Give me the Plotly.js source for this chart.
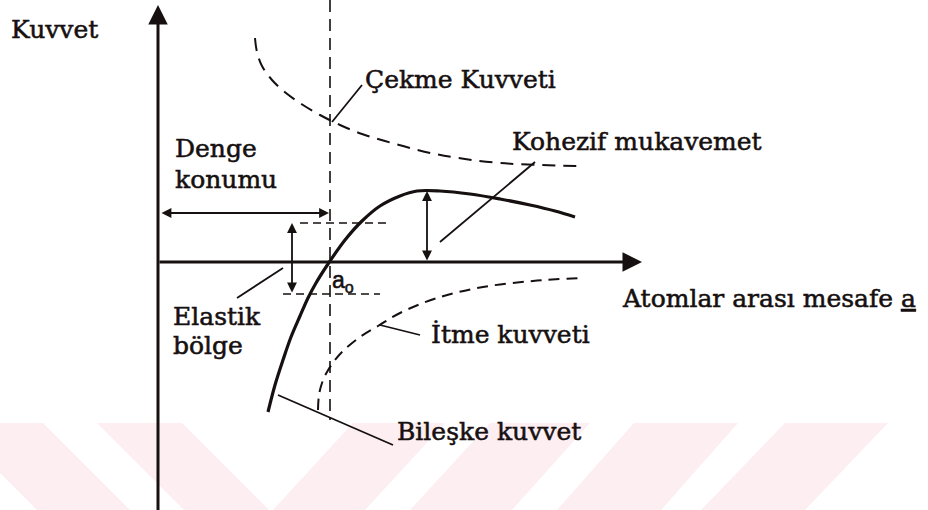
<!DOCTYPE html>
<html>
<head>
<meta charset="utf-8">
<script src="https://cdn.plot.ly/plotly-3.0.1.min.js"></script>
<style>
html,body{margin:0;padding:0;background:#fff;}
#chart{width:928px;height:510px;}
#chart .annotation-text{stroke:#161010;stroke-width:0.55px;}
</style>
</head>
<body>
<div id="chart"></div>
<script>
// ---- Data (schematic units: origin at the axes crossing, y up) ----
// Bileşke kuvvet (resultant force), solid
const resultantX = [110,117,125,133,142,150,158,170,187,204,222,242,259,282,312,342,372,397,417];
const resultantY = [-150,-123,-98,-75,-54,-36,-21,-2,22,41,56,66,71,71,68,63,57,51,45];
// Çekme kuvveti (attractive force), dashed
const attractX = [97,99,104,114,128,145,162,182,204,227,252,277,307,342,382,425];
const attractY = [224,210,196,182,169,157,147,137,128,121,114,108,103,99,97,96];
// İtme kuvveti (repulsive force), dashed
const repulseX = [160,161,164,169,177,186,202,220,242,279,325,375,422];
const repulseY = [-148,-133,-121,-110,-98,-88,-75,-64,-51,-36,-25,-19,-16];
// key values
const a0 = 172;          // equilibrium spacing
const peakX = 269;       // x of cohesive strength
const peakY = 71;        // cohesive strength
const elasticTop = 39;   // elastic region upper bound
const elasticBot = -32;  // elastic region lower bound
const dengeY = 49;       // level of "Denge konumu" arrow

const labels = {
  yTitle: 'Kuvvet',
  xTitle: 'Atomlar arası mesafe <u>a</u>',
  attract: 'Çekme Kuvveti',
  cohesive: 'Kohezif mukavemet',
  denge1: 'Denge', denge2: 'konumu',
  elastic1: 'Elastik', elastic2: 'bölge',
  repulse: 'İtme kuvveti',
  resultant: 'Bileşke kuvvet',
  a0: 'a<sub>o</sub>'
};

const ink = '#161010';
const serif = {family: 'DejaVu Serif', size: 25, color: ink};
const pink = 'rgb(253,238,241)';

const traces = [
  {x: attractX, y: attractY, mode: 'lines', line: {color: ink, width: 2, dash: '13px,8px', shape: 'spline', smoothing: 1}, hoverinfo: 'skip'},
  {x: repulseX, y: repulseY, mode: 'lines', line: {color: ink, width: 2, dash: '11px,7px', shape: 'spline', smoothing: 1}, hoverinfo: 'skip'},
  {x: resultantX, y: resultantY, mode: 'lines', line: {color: ink, width: 3.2, shape: 'spline', smoothing: 1}, hoverinfo: 'skip'}
];

// watermark bands (decoration)
function band(tl, tr, br, bl) {
  const yt = -161, yb = -248;
  return {type: 'path', layer: 'below', xref: 'x', yref: 'y',
    path: `M${tl},${yt} L${tr},${yt} L${br},${yb} L${bl},${yb} Z`,
    fillcolor: pink, line: {width: 0}};
}
const px = v => v - 158;
const shapes = [
  band(px(-50), px(43), px(130), px(37)),
  band(px(97), px(182), px(269), px(184)),
  band(px(353), px(445), px(365), px(273)),
  band(px(490), px(590), px(512), px(410)),
  band(px(634), px(738), px(661), px(557)),
  band(px(785), px(888), px(805), px(701)),
  // vertical dashed line at a0
  {type: 'line', x0: a0, x1: a0, y0: 262, y1: -158, line: {color: ink, width: 1.6, dash: '12px,7px'}},
  // elastic limits (short dashes)
  {type: 'line', x0: 142, x1: 232, y0: elasticTop, y1: elasticTop, line: {color: ink, width: 1.6, dash: '8px,5px'}},
  {type: 'line', x0: 125, x1: 222, y0: elasticBot, y1: elasticBot, line: {color: ink, width: 1.6, dash: '8px,5px'}},
  // leader lines
  {type: 'line', x0: 174, y0: 140, x1: 204, y1: 177, line: {color: ink, width: 1.8}},
  {type: 'line', x0: 282, y0: 20, x1: 377, y1: 100, line: {color: ink, width: 1.8}},
  {type: 'line', x0: 79, y0: -36, x1: 125, y1: -6, line: {color: ink, width: 1.8}},
  {type: 'line', x0: 222, y0: -63, x1: 262, y1: -73, line: {color: ink, width: 1.8}},
  {type: 'line', x0: 120, y0: -133, x1: 235, y1: -183, line: {color: ink, width: 1.8}}
];

function arrow(x, y, ax, ay, w, size, both) {
  return {x: x, y: y, ax: ax, ay: ay, xref: 'x', yref: 'y', axref: 'x', ayref: 'y',
    text: '', showarrow: true, arrowhead: 2, startarrowhead: 2, arrowsize: size, startarrowsize: size,
    arrowwidth: w, arrowcolor: ink, arrowside: both ? 'end+start' : 'end', standoff: 0, startstandoff: 0};
}
function label(text, x, y, font, anchor) {
  return {x: x, y: y, xref: 'x', yref: 'y', text: text, showarrow: false,
    xanchor: anchor || 'left', yanchor: 'middle', font: font || serif, align: 'left'};
}
const annotations = [
  arrow(0, 257, 0, -250, 3, 1.3, false),          // y axis
  arrow(484, 0, 0, 0, 3, 1.3, false),             // x axis
  arrow(a0 - 1, dengeY, 2, dengeY, 1.8, 1.1, true),
  arrow(134, elasticTop, 134, elasticBot, 1.8, 1.1, true),
  arrow(peakX, peakY, peakX, 0, 1.8, 1.1, true),
  label(labels.yTitle, px(9), 262 - 29.5),
  label(labels.attract, px(363), 262 - 79.5),
  label(labels.denge1, px(173), 262 - 148.5),
  label(labels.denge2, px(173), 262 - 179.5),
  label(labels.cohesive, px(510), 262 - 141.5),
  label(labels.xTitle, px(620), 262 - 298),
  label(labels.elastic1, px(171), 262 - 316.5),
  label(labels.elastic2, px(171), 262 - 345.5),
  label(labels.repulse, px(429), 262 - 334.5),
  label(labels.resultant, px(395), 262 - 431.5),
  {x: px(330), y: 262 - 265, xref: 'x', yref: 'y', text: labels.a0, showarrow: false,
   xanchor: 'left', yanchor: 'top', font: {family: 'Liberation Sans', size: 23, color: ink}}
];

const layout = {
  width: 928, height: 510,
  margin: {l: 0, r: 0, t: 0, b: 0},
  paper_bgcolor: '#ffffff', plot_bgcolor: '#ffffff',
  showlegend: false,
  xaxis: {range: [-158, 770], visible: false, fixedrange: true},
  yaxis: {range: [-248, 262], visible: false, fixedrange: true},
  shapes: shapes,
  annotations: annotations
};

Plotly.newPlot('chart', traces, layout, {staticPlot: true, displayModeBar: false});
</script>
</body>
</html>
